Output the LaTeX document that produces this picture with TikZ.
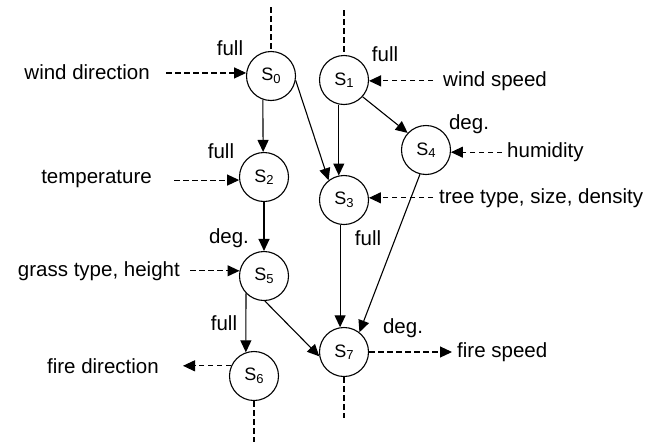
\documentclass[tikz,border=0pt]{standalone}
\usepackage{fontspec}
\setmainfont{Liberation Sans}
\usetikzlibrary{arrows.meta}
\newcommand{\stlabel}[1]{{\fontsize{18}{20}\selectfont S\raisebox{-2.5pt}{\fontsize{13}{14}\selectfont #1}}}
\begin{document}
\begin{tikzpicture}[x=1pt,y=-1pt,
  state/.style={circle,draw,line width=1.1pt,minimum size=49pt,inner sep=0pt},
  lbl/.style={inner sep=0pt,font=\fontsize{20.5}{24}\selectfont},
  arr/.style={line width=1.1pt,-{Triangle[length=12pt,width=11pt]}},
  darr/.style={line width=1.1pt,dash pattern=on 5.5pt off 3.5pt,-{Triangle[length=12pt,width=11pt]}},
  dline/.style={line width=1.1pt,dash pattern=on 5.5pt off 3.5pt}]
\useasboundingbox (0,0) rectangle (652,442);

% states
\node[state] (S0) at (271,76) {\stlabel{0}};
\node[state] (S1) at (344,80) {\stlabel{1}};
\node[state] (S2) at (264,177) {\stlabel{2}};
\node[state] (S3) at (344,200) {\stlabel{3}};
\node[state] (S4) at (426,150) {\stlabel{4}};
\node[state] (S5) at (264,276) {\stlabel{5}};
\node[state] (S6) at (254,376) {\stlabel{6}};
\node[state] (S7) at (344,352) {\stlabel{7}};

% external texts
\node[lbl,anchor=east] (wd) at (150,72) {wind direction};
\node[lbl,anchor=east] (tp) at (152,179) {temperature};
\node[lbl,anchor=east] (gt) at (180,271) {grass type, height};
\node[lbl,anchor=east] (fd) at (159,366) {fire direction};
\node[lbl,anchor=west] (ws) at (443,81) {wind speed};
\node[lbl,anchor=west] (hu) at (507,152) {humidity};
\node[lbl,anchor=west] (tt) at (439,198) {tree type, size, density};
\node[lbl,anchor=west] (fs) at (457,352) {fire speed};

% full / deg. labels
\node[lbl] (f0) at (230,48) {full};
\node[lbl] (f1) at (385,54) {full};
\node[lbl] (f2) at (221,151) {full};
\node[lbl] (d4) at (469,124) {deg.};
\node[lbl] (f3) at (368,238) {full};
\node[lbl] (d5) at (229,238) {deg.};
\node[lbl] (f6) at (224,323) {full};
\node[lbl] (d7) at (403,328) {deg.};

% solid arrows
\draw[arr] (S0.251) -- (S2.92);
\draw[arr] (S0.-10) -- (S3.128);
\draw[arr] (S1.258) -- (S3.102);
\draw[arr] (S1.-42) -- (S4.137);
\draw[arr] (S2.south) -- (S5.north);
\draw[arr] (S5.224) -- (S6.109);
\draw[arr] (S5.-88) -- (S7.190);
\draw[arr] (S3.261) -- (S7.99);
\draw[arr] (S4.256) -- (S7.52);

% dashed input/output arrows
\draw[darr] ([xshift=16pt]wd.east |- S0.173) -- (S0.173);
\draw[darr] ([xshift=22pt]tp.east |- S2.187) -- (S2.187);
\draw[darr] ([xshift=10pt]gt.east |- S5.168) -- (S5.168);
\draw[darr] (S6.156) -- ([xshift=24pt]fd.east |- S6.156);
\draw[darr] ([xshift=-10pt]ws.west |- S1.-2) -- (S1.-2);
\draw[darr] ([xshift=-5pt]hu.west |- S4.-5) -- (S4.-5);
\draw[darr] ([xshift=-6pt]tt.west |- S3.5) -- (S3.5);
\draw[darr] (S7.east) -- ([xshift=-5pt]fs.west |- S7.east);

% dashed time-slice lines
\coordinate (t0) at (271,7);
\coordinate (t1) at (344,10);
\coordinate (b6) at (254,442);
\coordinate (b7) at (344,418);
\draw[dline] (t0) -- (S0.north);
\draw[dline] (t1) -- (S1.north);
\draw[dline] (S6.south) -- (b6);
\draw[dline] (S7.south) -- (b7);
\end{tikzpicture}
\end{document}
